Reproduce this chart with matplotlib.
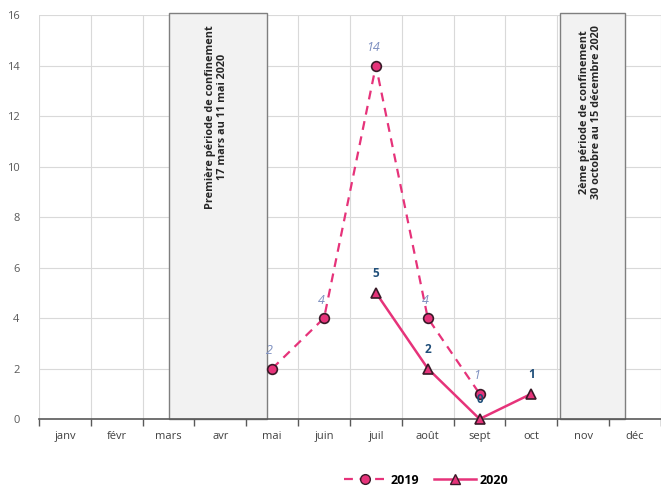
import matplotlib.pyplot as plt
import numpy as np
from matplotlib.patches import Rectangle
from matplotlib.lines import Line2D

# donnees
mois = ['janv', 'févr', 'mars', 'avr', 'mai', 'juin', 'juil', 'août', 'sept', 'oct', 'nov', 'déc']
mois_2019 = ['mai', 'juin', 'juil', 'août', 'sept']
valeurs_2019 = [2, 4, 14, 4, 1]
mois_2020 = ['juil', 'août', 'sept', 'oct']
valeurs_2020 = [5, 2, 0, 1]

# periodes de confinement (debut, fin) en position de mois
confinements = [(2.0, 3.9), (9.55, 10.8)]
textes_confinement = ['Première période de confinement\n17 mars au 11 mai 2020',
                      '2ème période de confinement\n30 octobre au 15 décembre 2020']

rose = '#e6337a'
bord = '#3a1a28'

plt.rcParams['font.family'] = 'Open Sans'
fig = plt.figure(figsize=(6.61, 4.88), dpi=100)
ax = fig.add_axes([0.059, 0.1414, 0.941, 0.8278])

x = np.arange(len(mois))
ax.set_xlim(-0.5, 11.5)
ax.set_ylim(0, 16)

# grille
for b in np.arange(-0.5, 12.0, 1):
    ax.axvline(b, color='#d9d9d9', lw=0.8, zorder=0)
for yv in range(2, 17, 2):
    ax.axhline(yv, color='#d9d9d9', lw=0.8, zorder=0)

# rectangles confinement
for (d, f), txt in zip(confinements, textes_confinement):
    ax.add_patch(Rectangle((d, 0), f - d, 16.1, facecolor='#f2f2f2', edgecolor='#7f7f7f',
                           lw=1.0, zorder=1, clip_on=False))
    ax.text((d + f) / 2 - 0.03, 15.6, txt, rotation=90, ha='center', va='top',
            fontsize=7.8, fontweight='bold', color='#262626', linespacing=1.1, zorder=2)

pos = {m: i for i, m in enumerate(mois)}
x19 = [pos[m] for m in mois_2019]
x20 = [pos[m] for m in mois_2020]

ax.plot(x19, valeurs_2019, color=rose, lw=1.6, ls=(0, (4, 3)), marker='o', ms=7,
        mfc=rose, mec=bord, mew=1.2, zorder=4, clip_on=False)
ax.plot(x20, valeurs_2020, color=rose, lw=1.8, marker='^', ms=7,
        mfc=rose, mec=bord, mew=1.2, zorder=5, clip_on=False)

for xi, v in zip(x19, valeurs_2019):
    ax.text(xi - 0.05, v + 0.45, str(v), ha='center', va='bottom', fontsize=9,
            style='italic', color='#7d8fc0', zorder=6)
for xi, v in zip(x20, valeurs_2020):
    ax.text(xi, v + 0.5, str(v), ha='center', va='bottom', fontsize=8.5,
            fontweight='bold', color='#1f4e79', zorder=6)

# axes
for s in ['top', 'right', 'left']:
    ax.spines[s].set_visible(False)
ax.spines['bottom'].set_color('#595959')
ax.spines['bottom'].set_linewidth(1.2)
ax.set_xticks(np.arange(-0.5, 12.0, 1))
ax.set_xticklabels([])
ax.set_xticks(x, minor=True)
ax.set_xticklabels(mois, minor=True)
ax.tick_params(axis='x', which='major', length=5, direction='out', color='#595959', width=1.0)
ax.tick_params(axis='x', which='minor', length=0, pad=9, labelsize=8, labelcolor='#404040')
ax.set_yticks(range(0, 17, 2))
ax.tick_params(axis='y', length=0, pad=14, labelsize=8, labelcolor='#595959')

# legende
handles = [Line2D([], [], color=rose, lw=1.6, ls=(0, (4, 3)), marker='o', ms=7, mfc=rose, mec=bord),
           Line2D([], [], color=rose, lw=1.8, marker='^', ms=7, mfc=rose, mec=bord)]
fig.legend(handles, ['2019', '2020'], loc='center', bbox_to_anchor=(0.645, 0.016), ncol=2,
           frameon=False, prop={'weight': 'bold', 'size': 9}, handlelength=3.4,
           columnspacing=1.2, handletextpad=0.3)

fig.savefig('out.png', dpi=100)
